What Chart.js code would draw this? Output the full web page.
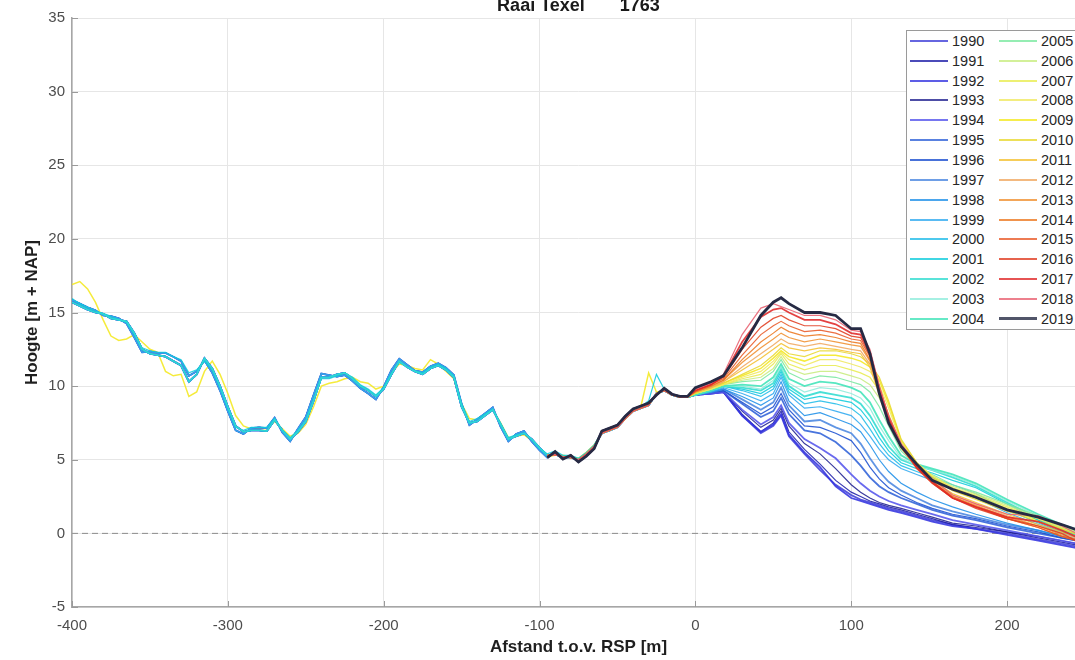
<!DOCTYPE html>
<html>
<head>
<meta charset="utf-8">
<script src="https://cdn.jsdelivr.net/npm/chart.js@4.4.1/dist/chart.umd.min.js"></script>
<style>
    html, body { margin: 0; padding: 0; background: #fff; overflow: hidden; }
    #houder { position: absolute; left: 0; top: 0; width: 1090px; height: 660px; }
    #legenda {
        position: absolute; left: 906px; top: 30px; width: 182px; height: 298px;
        border: 1px solid #9a9a9a; background: #fff;
        display: grid; grid-auto-flow: column;
        grid-template-columns: 89px 89px; grid-template-rows: repeat(15, 19.85px);
        font-family: 'Liberation Sans', Arial, sans-serif; font-size: 14.5px; color: #262626;
    }
    .item { display: flex; align-items: center; }
    .lijn { display: inline-block; width: 38px; margin-left: 3px; margin-right: 4px; opacity: 0.8; }
</style>
</head>
<body>
<div id="houder"><canvas id="grafiek" width="1090" height="660"></canvas></div>
<div id="legenda"></div>
<script>
// jaren en kleuren van de raaimetingen
const jaren = [1990, 1991, 1992, 1993, 1994, 1995, 1996, 1997, 1998, 1999,
    2000, 2001, 2002, 2003, 2004, 2005, 2006, 2007, 2008, 2009,
    2010, 2011, 2012, 2013, 2014, 2015, 2016, 2017, 2018, 2019];

const kleuren = ['#4040d8', '#1e1ea8', '#3434e0', '#202090', '#5454ec', '#3062d8', '#1a4ed0', '#4a86e0', '#1e90e8', '#30aaf0',
    '#20bce8', '#10ccdc', '#30dcd0', '#90ecdc', '#40e4b8', '#7ae8a0', '#c8ec80', '#e8ec50', '#f0e860', '#f4e820',
    '#e8d830', '#f4c030', '#f0a860', '#f09030', '#ec7820', '#e85a28', '#e03c20', '#e02828', '#e86070', '#262a44'];

const dikte = [1.8, 1.2, 1.8, 1.2, 1.8, 1.8, 1.2, 1.8, 1.2, 1.2,
    1.2, 1.2, 1.8, 1.2, 1.8, 1.2, 1.2, 1.2, 1.2, 1.5,
    1.2, 1.2, 1.2, 1.2, 1.2, 1.2, 1.2, 1.8, 1.2, 2.8];

// eerste gemeten afstand per jaar
const beginMeting = [-400, -400, -400, -400, -400, -400, -400, -400, -400, -400,
    -400, -400, -400, -95, -95, -95, -95, -95, -95, -400,
    -95, -95, -95, -95, -95, -95, -95, -95, -95, -95];

// landwaarts deel (-400 tot -5 m)
const afstandLand = [-400, -395, -390, -385, -380, -375, -370, -365, -360, -355,
    -350, -345, -340, -335, -330, -325, -320, -315, -310, -305,
    -300, -295, -290, -285, -280, -275, -270, -265, -260, -255,
    -250, -245, -240, -235, -230, -225, -220, -215, -210, -205,
    -200, -195, -190, -185, -180, -175, -170, -165, -160, -155,
    -150, -145, -140, -135, -130, -125, -120, -115, -110, -105,
    -100, -95, -90, -85, -80, -75, -70, -65, -60, -55,
    -50, -45, -40, -35, -30, -25, -20, -15, -10, -5];

const hoogteLandA = [15.7, 15.45, 15.2, 15.0, 14.9, 14.6, 14.5, 14.4, 13.6, 12.5,
    12.2, 12.1, 12.0, 11.7, 11.4, 10.3, 10.8, 11.9, 11.2, 10.0,
    8.6, 7.3, 6.9, 7.0, 7.0, 6.95, 7.7, 7.0, 6.4, 6.9,
    7.6, 9.0, 10.6, 10.6, 10.8, 10.9, 10.5, 10.0, 9.7, 9.3,
    9.8, 10.8, 11.7, 11.3, 11.0, 10.8, 11.2, 11.4, 11.1, 10.6,
    8.6, 7.5, 7.6, 8.0, 8.4, 7.4, 6.4, 6.6, 6.8, 6.4,
    5.8, 5.3, 5.35, 5.2, 5.15, 5.0, 5.4, 5.9, 6.8, 7.0,
    7.2, 7.8, 8.3, 8.5, 8.7, 9.5, 9.7, 9.4, 9.25, 9.25];

const hoogteLandB = [15.85, 15.6, 15.35, 15.15, 14.8, 14.75, 14.6, 14.25, 13.3, 12.3,
    12.35, 12.25, 12.25, 12.0, 11.7, 10.7, 11.0, 11.75, 10.9, 9.7,
    8.3, 7.0, 6.75, 7.15, 7.2, 7.15, 7.85, 6.85, 6.25, 7.1,
    7.9, 9.4, 10.85, 10.75, 10.65, 10.75, 10.35, 9.85, 9.5, 9.1,
    9.95, 11.1, 11.85, 11.45, 11.05, 10.95, 11.35, 11.55, 11.25, 10.75,
    8.8, 7.35, 7.75, 8.15, 8.55, 7.25, 6.25, 6.75, 6.95, 6.25,
    5.65, 5.15, 5.55, 5.05, 5.3, 4.85, 5.25, 5.75, 6.95, 7.15,
    7.35, 7.95, 8.45, 8.65, 8.85, 9.4, 9.85, 9.45, 9.3, 9.3];

const hoogteLandCyaan = [15.95, 15.6, 15.35, 15.1, 14.95, 14.75, 14.5, 14.35, 13.5, 12.6,
    12.4, 12.3, 12.3, 12.0, 11.8, 10.9, 11.1, 11.7, 11.1, 9.9,
    8.5, 7.2, 7.0, 7.2, 7.2, 7.2, 7.8, 7.0, 6.5, 7.0,
    7.7, 9.1, 10.5, 10.5, 10.7, 10.9, 10.6, 10.1, 9.8, 9.4,
    9.9, 10.9, 11.6, 11.3, 11.0, 10.9, 11.3, 11.5, 11.2, 10.7,
    8.8, 7.6, 7.8, 8.1, 8.4, 7.5, 6.5, 6.7, 6.8, 6.4,
    5.8, 5.4, 5.6, 5.3, 5.3, 5.1, 5.5, 6.0, 6.9, 7.1,
    7.3, 8.0, 8.4, 8.6, 9.0, 10.8, 9.8, 9.4, 9.3, 9.3];

const hoogteLandGeel = [16.9, 17.1, 16.6, 15.7, 14.5, 13.4, 13.1, 13.2, 13.5, 13.0,
    12.5, 12.3, 11.0, 10.7, 10.8, 9.3, 9.6, 11.0, 11.7, 10.8,
    9.5, 8.0, 7.3, 7.1, 7.1, 7.1, 7.6, 7.1, 6.6, 6.8,
    7.4, 8.6, 10.0, 10.2, 10.3, 10.5, 10.6, 10.3, 10.2, 9.8,
    10.0, 10.9, 11.5, 11.4, 11.2, 11.1, 11.8, 11.5, 11.0, 10.5,
    8.8, 7.8, 7.7, 8.1, 8.4, 7.5, 6.5, 6.6, 6.7, 6.3,
    5.7, 5.2, 5.3, 5.3, 5.2, 5.1, 5.5, 6.0, 6.8, 7.0,
    7.3, 7.9, 8.4, 8.6, 10.9, 9.6, 9.7, 9.4, 9.3, 9.3];

// zeewaarts deel (0 tot 250 m), per jaar
const afstandZee = [0, 10, 18, 30, 42, 50, 55, 60, 70, 80, 90, 100, 106, 112, 118, 124, 132, 142, 152, 165, 180, 200, 220, 235, 250];

const zee1990 = [9.4, 9.5, 9.6, 8.0, 6.8, 7.3, 8.0, 6.6, 5.4, 4.3, 3.3, 2.6, 2.3, 2.1, 1.9, 1.7, 1.5, 1.2, 0.9, 0.6, 0.3, 0.0, -0.4, -0.7, -1.0];
const zee1991 = [9.4, 9.5, 9.6, 8.1, 6.9, 7.5, 8.3, 6.9, 5.7, 4.7, 3.6, 2.8, 2.5, 2.2, 2.0, 1.8, 1.6, 1.3, 1.0, 0.6, 0.4, 0.1, -0.3, -0.6, -0.9];
const zee1992 = [9.4, 9.5, 9.6, 8.0, 6.9, 7.4, 8.1, 6.7, 5.5, 4.5, 3.2, 2.4, 2.2, 2.0, 1.8, 1.6, 1.4, 1.1, 0.8, 0.5, 0.3, -0.1, -0.5, -0.8, -1.1];
const zee1993 = [9.4, 9.5, 9.6, 8.3, 7.2, 7.7, 8.5, 7.3, 6.1, 5.4, 4.4, 3.3, 2.8, 2.4, 2.1, 1.9, 1.7, 1.4, 1.1, 0.7, 0.5, 0.1, -0.2, -0.5, -0.8];
const zee1994 = [9.4, 9.5, 9.6, 8.4, 7.4, 7.9, 8.7, 7.5, 6.4, 5.8, 5.1, 4.0, 3.4, 2.9, 2.5, 2.2, 1.9, 1.6, 1.3, 0.9, 0.6, 0.2, -0.2, -0.5, -0.8];
const zee1995 = [9.4, 9.6, 9.7, 8.8, 7.9, 8.3, 9.2, 8.1, 7.0, 6.8, 6.2, 5.3, 4.6, 3.8, 3.2, 2.8, 2.4, 2.0, 1.6, 1.2, 0.9, 0.4, 0.0, -0.3, -0.6];
const zee1996 = [9.4, 9.6, 9.7, 8.9, 8.1, 8.6, 9.5, 8.4, 7.3, 7.2, 6.8, 6.3, 5.5, 4.5, 3.7, 3.1, 2.6, 2.1, 1.7, 1.3, 1.0, 0.5, 0.1, -0.3, -0.6];
const zee1997 = [9.4, 9.6, 9.8, 9.1, 8.4, 8.9, 9.9, 8.7, 7.6, 7.7, 7.2, 6.8, 6.1, 5.1, 4.2, 3.5, 2.9, 2.4, 1.9, 1.5, 1.1, 0.6, 0.2, -0.2, -0.5];
const zee1998 = [9.4, 9.6, 9.8, 9.3, 8.7, 9.2, 10.3, 9.0, 8.0, 8.2, 7.8, 7.4, 6.9, 6.0, 5.0, 4.2, 3.4, 2.8, 2.3, 1.8, 1.3, 0.7, 0.2, -0.2, -0.5];
const zee1999 = [9.4, 9.6, 9.9, 9.5, 9.0, 9.5, 10.6, 9.4, 8.5, 8.6, 8.3, 8.0, 7.4, 6.6, 5.7, 5.0, 4.4, 4.0, 3.6, 3.0, 2.4, 1.4, 0.6, 0.0, -0.4];
const zee2000 = [9.4, 9.7, 10.0, 9.7, 9.3, 9.8, 10.8, 9.6, 8.8, 9.0, 8.8, 8.5, 8.0, 7.1, 6.1, 5.3, 4.6, 4.2, 3.8, 3.3, 2.7, 1.6, 0.7, 0.1, -0.3];
const zee2001 = [9.4, 9.7, 10.0, 9.8, 9.5, 10.0, 11.0, 9.8, 9.1, 9.3, 9.1, 8.9, 8.4, 7.6, 6.5, 5.6, 4.8, 4.4, 4.1, 3.6, 3.1, 2.0, 0.9, 0.2, -0.3];
const zee2002 = [9.4, 9.7, 10.0, 9.9, 9.7, 10.2, 11.2, 10.0, 9.3, 9.6, 9.4, 9.2, 8.8, 8.0, 6.9, 5.9, 5.0, 4.6, 4.3, 3.8, 3.2, 2.1, 1.0, 0.4, -0.2];
const zee2003 = [9.4, 9.7, 10.0, 10.0, 9.8, 10.4, 11.3, 10.2, 9.6, 9.9, 9.8, 9.5, 9.2, 8.5, 7.3, 6.3, 5.1, 4.6, 4.3, 3.9, 3.3, 2.2, 1.2, 0.5, 0.0];
const zee2004 = [9.4, 9.7, 10.0, 10.1, 10.0, 10.6, 11.5, 10.5, 10.0, 10.3, 10.2, 9.9, 9.6, 8.9, 7.7, 6.6, 5.3, 4.7, 4.4, 4.0, 3.4, 2.3, 1.3, 0.6, 0.1];
const zee2005 = [9.5, 9.8, 10.1, 10.3, 10.4, 11.0, 11.8, 10.9, 10.4, 10.7, 10.6, 10.3, 10.1, 9.6, 8.6, 7.3, 5.6, 4.6, 4.0, 3.3, 2.8, 2.0, 1.2, 0.6, 0.0];
const zee2006 = [9.5, 9.8, 10.1, 10.4, 10.6, 11.2, 12.0, 11.2, 10.8, 11.0, 11.0, 10.7, 10.5, 10.1, 9.2, 7.7, 5.8, 4.6, 3.9, 3.2, 2.7, 1.9, 1.1, 0.5, -0.1];
const zee2007 = [9.5, 9.8, 10.1, 10.5, 10.8, 11.5, 12.2, 11.5, 11.1, 11.4, 11.4, 11.1, 10.9, 10.6, 9.7, 8.1, 6.0, 4.7, 3.9, 3.1, 2.6, 1.8, 1.0, 0.4, -0.2];
const zee2008 = [9.5, 9.8, 10.1, 10.6, 11.0, 11.7, 12.3, 11.8, 11.4, 11.8, 11.8, 11.5, 11.3, 11.0, 10.1, 8.5, 6.2, 4.8, 3.9, 3.1, 2.5, 1.7, 1.0, 0.4, -0.2];
const zee2009 = [9.5, 9.8, 10.2, 10.7, 11.2, 11.9, 12.4, 12.0, 11.7, 12.1, 12.1, 11.9, 11.7, 11.3, 10.4, 8.8, 6.3, 4.8, 3.8, 3.0, 2.4, 1.6, 0.9, 0.3, -0.3];
const zee2010 = [9.5, 9.9, 10.2, 10.8, 11.4, 12.1, 12.6, 12.2, 12.0, 12.4, 12.4, 12.2, 12.0, 11.5, 10.6, 9.0, 6.4, 4.8, 3.8, 2.9, 2.3, 1.5, 0.8, 0.3, -0.3];
const zee2011 = [9.6, 9.9, 10.3, 11.1, 11.9, 12.5, 12.9, 12.6, 12.4, 12.6, 12.5, 12.3, 12.2, 11.3, 9.4, 7.7, 5.8, 4.5, 3.6, 2.7, 2.1, 1.3, 0.6, 0.1, -0.4];
const zee2012 = [9.6, 9.9, 10.3, 11.3, 12.2, 12.8, 13.2, 12.9, 12.7, 12.9, 12.7, 12.5, 12.4, 11.5, 9.5, 7.8, 5.8, 4.5, 3.6, 2.6, 2.0, 1.2, 0.5, 0.0, -0.5];
const zee2013 = [9.6, 10.0, 10.4, 11.6, 12.6, 13.2, 13.6, 13.3, 13.0, 13.2, 13.0, 12.8, 12.7, 11.7, 9.6, 7.8, 5.9, 4.5, 3.5, 2.5, 1.9, 1.1, 0.5, -0.1, -0.6];
const zee2014 = [9.6, 10.0, 10.4, 11.8, 13.0, 13.6, 14.0, 13.7, 13.4, 13.5, 13.3, 13.0, 12.9, 11.8, 9.6, 7.8, 5.9, 4.5, 3.5, 2.5, 1.8, 1.0, 0.4, -0.2, -0.6];
const zee2015 = [9.7, 10.1, 10.5, 12.1, 13.5, 14.1, 14.4, 14.1, 13.7, 13.8, 13.6, 13.2, 13.1, 12.0, 9.7, 7.8, 5.9, 4.5, 3.4, 2.4, 1.8, 1.0, 0.4, -0.2, -0.7];
const zee2016 = [9.7, 10.1, 10.6, 12.5, 14.0, 14.6, 14.8, 14.5, 14.1, 14.1, 13.9, 13.4, 13.3, 12.1, 9.8, 7.9, 5.9, 4.4, 3.4, 2.4, 1.7, 1.0, 0.5, 0.0, -0.8];
const zee2017 = [9.7, 10.1, 10.7, 13.0, 14.7, 15.2, 15.3, 15.0, 14.5, 14.5, 14.2, 13.6, 13.5, 12.3, 9.9, 7.9, 6.0, 4.5, 3.5, 2.4, 1.8, 1.1, 0.8, 0.2, -0.5];
const zee2018 = [9.8, 10.2, 10.8, 13.5, 15.3, 15.6, 15.4, 15.2, 14.8, 14.8, 14.5, 13.8, 13.7, 12.5, 10.0, 8.0, 6.1, 4.7, 3.7, 2.6, 2.0, 1.3, 1.2, 0.5, -0.3];
const zee2019 = [9.9, 10.3, 10.7, 12.6, 14.8, 15.7, 16.0, 15.6, 15.0, 15.0, 14.8, 13.9, 13.9, 12.2, 9.5, 7.5, 5.9, 4.7, 3.6, 3.0, 2.45, 1.6, 1.1, 0.6, 0.05];

const zeeReeksen = [zee1990, zee1991, zee1992, zee1993, zee1994, zee1995, zee1996, zee1997, zee1998, zee1999,
    zee2000, zee2001, zee2002, zee2003, zee2004, zee2005, zee2006, zee2007, zee2008, zee2009,
    zee2010, zee2011, zee2012, zee2013, zee2014, zee2015, zee2016, zee2017, zee2018, zee2019];

// nullijn
const nulAfstand = [-400, 250];
const nulHoogte = [0, 0];

const tickX = [-400, -300, -200, -100, 0, 100, 200];

function landProfiel(jaar) {
    if (jaar === 2009) return hoogteLandGeel;
    if (jaar === 2001) return hoogteLandCyaan;
    return jaar % 2 === 0 ? hoogteLandA : hoogteLandB;
}

function maakPunten(jaar, i) {
    var punten = [];
    var land = landProfiel(jaar);
    afstandLand.forEach(function (x, k) {
        if (x < beginMeting[i]) return;
        punten.push({ x: x, y: land[k] });
    });
    afstandZee.forEach(function (x, k) {
        punten.push({ x: x, y: zeeReeksen[i][k] });
    });
    return punten;
}

const datasets = jaren.map(function (jaar, i) {
    return {
        label: String(jaar),
        data: maakPunten(jaar, i),
        borderColor: jaar === 2019 ? kleuren[i] : kleuren[i] + 'e0',
        borderWidth: dikte[i],
        pointRadius: 0,
        tension: 0,
        // de gele afwijkende meting onder de blauwe bundel tekenen
        order: jaar === 2009 ? 60 : 2019 - jaar + 1
    };
});

datasets.push({
    label: 'nul',
    data: nulAfstand.map((x, k) => ({ x: x, y: nulHoogte[k] })),
    borderColor: '#8c8c8c',
    borderWidth: 1,
    borderDash: [6, 4],
    pointRadius: 0,
    order: 100
});

const lettertype = "'Liberation Sans', Arial, Helvetica, sans-serif";

// MATLAB-achtige ticks aan de binnenkant
const binnenTicks = {
    id: 'binnenTicks',
    afterDraw(chart) {
        const { ctx, chartArea: a, scales } = chart;
        ctx.save();
        ctx.strokeStyle = '#9a9a9a';
        ctx.lineWidth = 1;
        scales.x.ticks.forEach(function (t) {
            const px = Math.round(scales.x.getPixelForValue(t.value)) + 0.5;
            ctx.beginPath(); ctx.moveTo(px, a.bottom); ctx.lineTo(px, a.bottom - 6); ctx.stroke();
        });
        scales.y.ticks.forEach(function (t) {
            const py = Math.round(scales.y.getPixelForValue(t.value)) + 0.5;
            ctx.beginPath(); ctx.moveTo(a.left, py); ctx.lineTo(a.left + 6, py); ctx.stroke();
        });
        ctx.restore();
    }
};

const ctx = document.getElementById('grafiek').getContext('2d');
new Chart(ctx, {
    type: 'line',
    data: { datasets: datasets },
    options: {
        responsive: false,
        animation: false,
        events: [],
        layout: { autoPadding: false, padding: { left: 0, right: 5, top: 0, bottom: 0 } },
        plugins: {
            legend: { display: false },
            tooltip: { enabled: false }
        },
        scales: {
            x: {
                type: 'linear',
                min: -400,
                max: 250,
                afterFit: function (s) { s.height = 53; },
                afterBuildTicks: function (s) { s.ticks = tickX.map(v => ({ value: v })); },
                grid: { color: '#e6e6e6', drawTicks: false },
                border: { color: '#a6a6a6', width: 1.5 },
                ticks: {
                    color: '#4d4d4d', padding: 10,
                    font: { family: lettertype, size: 15 },
                    maxRotation: 0
                },
                title: {
                    display: true,
                    text: 'Afstand t.o.v. RSP [m]',
                    color: '#1f1f1f',
                    font: { family: lettertype, size: 17, weight: 'bold' },
                    padding: { top: 0, bottom: 2 }
                }
            },
            // bovenas alleen voor de titel, gecentreerd boven het plotvlak
            titelAs: {
                type: 'linear',
                position: 'top',
                min: -400,
                max: 250,
                afterFit: function (s) { s.height = 18; },
                grid: { display: false, drawTicks: false },
                border: { display: false },
                ticks: { display: false },
                title: {
                    display: true,
                    text: 'Raai Texel       1763',
                    color: '#1a1a1a',
                    font: { family: lettertype, size: 18, weight: 'bold' },
                    padding: { top: -5, bottom: 0 }
                }
            },
            y: {
                min: -5,
                max: 35,
                afterFit: function (s) { s.width = 72; },
                grid: { color: '#e6e6e6', drawTicks: false },
                border: { color: '#a6a6a6', width: 1.5 },
                ticks: {
                    stepSize: 5, color: '#4d4d4d', padding: 7,
                    font: { family: lettertype, size: 15 }
                },
                title: {
                    display: true,
                    text: 'Hoogte [m + NAP]',
                    color: '#1f1f1f',
                    font: { family: lettertype, size: 17, weight: 'bold' },
                    padding: { top: 22, bottom: 0 }
                }
            }
        }
    },
    plugins: [binnenTicks]
});

// legenda in twee kolommen, kolomsgewijs gevuld
var legenda = document.getElementById('legenda');
jaren.forEach(function (jaar, i) {
    var item = document.createElement('div');
    item.className = 'item';
    var lijn = document.createElement('span');
    lijn.className = 'lijn';
    lijn.style.height = (dikte[i] > 2 ? 3 : 2) + 'px';
    lijn.style.background = kleuren[i];
    var tekst = document.createElement('span');
    tekst.textContent = jaar;
    item.appendChild(lijn);
    item.appendChild(tekst);
    legenda.appendChild(item);
});
</script>
</body>
</html>
